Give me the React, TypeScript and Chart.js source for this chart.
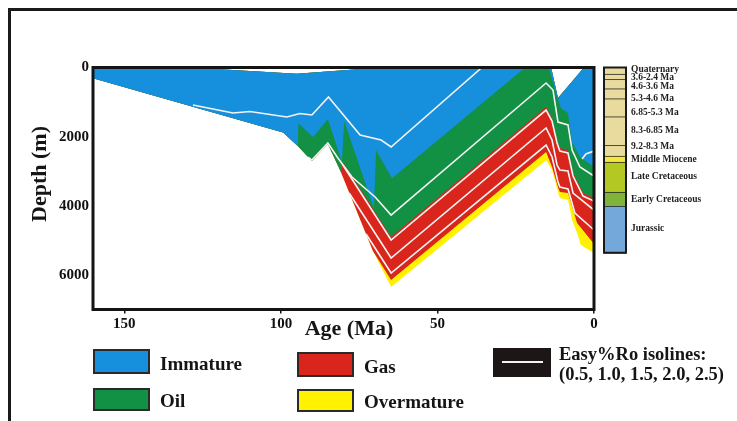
import { useEffect, useRef } from 'react';
import { Chart, registerables } from 'chart.js';

Chart.register(...registerables);

type Pt = [number, number]; // [age in Ma, depth in m]

const xTicks = [150, 100, 50, 0];
const yTicks = [0, 2000, 4000, 6000];

// sediment top surface (left to right)
const surfaceTop: Pt[] = [[160, 0], [129, 0], [95, 180], [68, 0], [13.7, 0], [11.5, 880], [3.2, 0], [0, 0]];

// maturity zone bases (left to right)
const immatureBase: Pt[] = [[160, 310], [99.3, 1880], [94.6, 2270], [94.4, 1610], [89.7, 2010], [85, 1490], [80.5, 2730], [79.8, 1550], [70.3, 4065], [69.6, 2390], [64.5, 3200], [22, 0], [14.4, 0], [11.8, 850], [10.5, 1170], [8.3, 1320], [7, 2155], [4.5, 2590], [0, 2880]];
const oilBase: Pt[] = [[160, 310], [99.3, 1880], [94.6, 2270], [90.1, 2705], [85, 2210], [80.8, 3030], [80.2, 2730], [64.8, 4900], [15.3, 1140], [13.4, 1460], [11.8, 2100], [10.9, 2330], [8.3, 2390], [6.7, 3050], [3.5, 3630], [0, 3775]];
const gasBase: Pt[] = [[160, 310], [99.3, 1880], [94.6, 2270], [90.1, 2705], [85, 2210], [81.1, 2965], [70.6, 5310], [64.8, 6150], [15.3, 2445], [13.4, 2880], [11.5, 3460], [10.9, 3600], [8.3, 3630], [5.4, 4500], [0, 5105]];
const overmatureBase: Pt[] = [[160, 310], [99.3, 1880], [94.6, 2270], [90.1, 2705], [85, 2210], [81.1, 2965], [70.6, 5310], [64.8, 6350], [15.3, 2680], [13.4, 2965], [11.5, 3600], [10.9, 3775], [8.3, 3830], [7, 4410], [5.4, 4790], [4.2, 5135], [0, 5365]];

// Easy%Ro isolines
const ro05: Pt[] = [[128.1, 1085], [115.3, 1316], [109.9, 1273], [98.1, 1432], [93.9, 1331], [90.1, 1374], [84.8, 853], [74.7, 1953], [68, 2097], [64.8, 2300], [35.8, 0]];
const ro05East: Pt[] = [[3.8, 2647], [2.6, 2502], [0, 2416]];
const ro10: Pt[] = [[91.3, 2589], [90.1, 2676], [85, 2184], [81.8, 2618], [77.3, 3168], [69.9, 3746], [64.8, 4267], [15.3, 448], [13.1, 651], [11.5, 1577], [8.3, 1663], [7, 2387], [4.5, 2879], [0, 3139]];
const ro15: Pt[] = [[80.2, 2821], [64.8, 4990], [15.3, 1230], [13.4, 1548], [11.8, 2184], [10.9, 2416], [8.3, 2473], [6.7, 3139], [3.5, 3718], [0, 3862]];
const ro20: Pt[] = [[78.2, 3631], [64.8, 5511], [15.3, 1750], [13.4, 2097], [11.8, 2821], [10.9, 2965], [8.3, 2994], [6.7, 3631], [0, 4123]];
const ro25: Pt[] = [[72.8, 4817], [64.8, 5945], [15.3, 2242], [13.4, 2589], [11.5, 3312], [10.9, 3457], [8.3, 3515], [6.1, 4209], [0, 4701]];

// present-day stratigraphic column
const stratUnits = ['Quaternary', '3.6-2.4 Ma', '4.6-3.6 Ma', '5.3-4.6 Ma', '6.85-5.3 Ma', '8.3-6.85 Ma', '9.2-8.3 Ma', 'Middle Miocene', 'Late Cretaceous', 'Early Cretaceous', 'Jurassic'];
const stratBase = [208, 362, 631, 920, 1441, 2271, 2580, 2754, 3622, 4027, 5358];
const stratLabelDepth = [45, 280, 540, 885, 1290, 1810, 2300, 2650, 3140, 3830, 4670];
const stratColors = ['#E9DA9E', '#E9DA9E', '#E9DA9E', '#E9DA9E', '#E9DA9E', '#E9DA9E', '#E9DA9E', '#F4E83A', '#B3C823', '#7FB43A', '#74A8DA'];

const legendLabels = ['Immature', 'Oil', 'Gas', 'Overmature'];

const BLUE = '#1690DC';
const GREEN = '#129144';
const RED = '#DA251D';
const YELLOW = '#FFF100';
const zoneColors = [BLUE, GREEN, RED, YELLOW];
const SERIF = '"Liberation Serif", "Times New Roman", serif';

const toXY = (pts: Pt[]) => pts.map(([x, y]) => ({ x, y }));
const zone = (base: Pt[]) => toXY([...surfaceTop, ...[...base].reverse()]);

const framePlugin = {
  id: 'frameBox',
  afterDatasetsDraw(chart: any) {
    const { ctx, chartArea: a } = chart;
    ctx.save();
    ctx.strokeStyle = '#141414';
    ctx.lineWidth = 3;
    ctx.strokeRect(a.left, a.top, a.right - a.left, a.bottom - a.top);
    ctx.restore();
  },
};

const stratPlugin = {
  id: 'stratColumn',
  afterDraw(chart: any) {
    const { ctx, chartArea: a } = chart;
    const ys = chart.scales.y;
    const x0 = a.right + 10;
    const w = 22;
    ctx.save();
    let top = 0;
    stratBase.forEach((base, i) => {
      const y1 = ys.getPixelForValue(top);
      const y2 = ys.getPixelForValue(base);
      ctx.fillStyle = stratColors[i];
      ctx.fillRect(x0, y1, w, y2 - y1);
      ctx.strokeStyle = '#1a1a1a';
      ctx.lineWidth = 1.5;
      ctx.beginPath();
      ctx.moveTo(x0, y2);
      ctx.lineTo(x0 + w, y2);
      ctx.stroke();
      ctx.fillStyle = '#222';
      ctx.font = `bold 9.5px ${SERIF}`;
      ctx.textBaseline = 'middle';
      ctx.fillText(stratUnits[i], x0 + 27, ys.getPixelForValue(stratLabelDepth[i]));
      top = base;
    });
    ctx.lineWidth = 2;
    ctx.strokeRect(x0, ys.getPixelForValue(0), w, ys.getPixelForValue(stratBase[stratBase.length - 1]) - ys.getPixelForValue(0));
    ctx.restore();
  },
};

export default function App() {
  const ref = useRef<HTMLCanvasElement>(null);

  useEffect(() => {
    const canvas = ref.current;
    if (!canvas) return;
    const tickFont = { family: SERIF, size: 15, weight: 'bold' as const };
    const iso = [ro05, ro05East, ro10, ro15, ro20, ro25].map((l) => ({
      data: toXY(l),
      borderColor: '#f4f4f4',
      borderWidth: 1.6,
      fill: false,
      pointRadius: 0,
    }));
    const zones = [immatureBase, oilBase, gasBase, overmatureBase].map((b, i) => ({
      data: zone(b),
      backgroundColor: zoneColors[i],
      borderWidth: 0,
      fill: 'shape' as const,
      pointRadius: 0,
    }));
    const chart = new Chart(canvas, {
      type: 'line',
      data: { datasets: [...iso, ...zones] as any },
      options: {
        responsive: false,
        animation: false,
        events: [],
        layout: { padding: { left: 45, right: 143, top: 59.5, bottom: 71.5 } },
        plugins: { legend: { display: false }, tooltip: { enabled: false } },
        elements: { point: { radius: 0 }, line: { tension: 0 } },
        scales: {
          x: {
            type: 'linear',
            min: 0,
            max: 160,
            reverse: true,
            afterFit: (s: any) => { s.height = 40; },
            afterBuildTicks: (s: any) => { s.ticks = xTicks.map((v) => ({ value: v })); },
            grid: { display: true, drawOnChartArea: false, drawTicks: true, tickLength: 4, color: '#111', lineWidth: 1.5 },
            border: { display: false },
            ticks: { font: tickFont, color: '#111', padding: 2, maxRotation: 0, autoSkip: false, callback: (v: any) => String(v) },
          },
          y: {
            type: 'linear',
            min: 0,
            max: 7000,
            reverse: true,
            afterFit: (s: any) => { s.width = 40; },
            afterBuildTicks: (s: any) => { s.ticks = yTicks.map((v) => ({ value: v })); },
            grid: { display: false, drawTicks: false },
            border: { display: false },
            ticks: { font: tickFont, color: '#111', padding: 4, autoSkip: false, callback: (v: any) => String(v) },
          },
        },
      },
      plugins: [framePlugin, stratPlugin],
    });
    return () => chart.destroy();
  }, []);

  const text = (content: string, left: number, top: number, size: number) => (
    <div
      key={content}
      style={{ position: 'absolute', left, top, transform: 'translateY(-50%)', fontSize: size, lineHeight: 1, whiteSpace: 'nowrap' }}
    >
      {content}
    </div>
  );

  const legendBoxes = [
    { left: 85, top: 341, h: 25 },
    { left: 85, top: 380, h: 23 },
    { left: 289, top: 344, h: 25 },
    { left: 289, top: 381, h: 23 },
  ];
  const legendTextPos = [
    [152, 355],
    [152, 392],
    [356, 358],
    [356, 393],
  ];

  return (
    <div
      style={{
        position: 'absolute',
        left: 8,
        top: 8,
        width: 729,
        height: 413,
        overflow: 'hidden',
        fontFamily: SERIF,
        fontWeight: 'bold',
        color: '#151515',
      }}
    >
      <canvas ref={ref} width={729} height={413} style={{ position: 'absolute', left: 0, top: 0 }} />
      <div
        style={{
          position: 'absolute',
          left: 0,
          top: 0,
          width: 729,
          height: 413,
          boxSizing: 'border-box',
          borderTop: '3px solid #1a1a1a',
          borderLeft: '3px solid #1a1a1a',
          pointerEvents: 'none',
        }}
      />
      <div
        style={{
          position: 'absolute',
          left: 31,
          top: 166,
          transform: 'translate(-50%, -50%) rotate(-90deg)',
          fontSize: 22,
          lineHeight: 1,
          whiteSpace: 'nowrap',
        }}
      >
        Depth (m)
      </div>
      <div
        style={{
          position: 'absolute',
          left: 341,
          top: 320,
          transform: 'translate(-50%, -50%)',
          fontSize: 22,
          lineHeight: 1,
          whiteSpace: 'nowrap',
        }}
      >
        Age (Ma)
      </div>
      {legendLabels.map((label, i) => (
        <div key={'b' + label}>
          <div
            style={{
              position: 'absolute',
              left: legendBoxes[i].left,
              top: legendBoxes[i].top,
              width: 57,
              height: legendBoxes[i].h,
              boxSizing: 'border-box',
              border: '2px solid #2a2a2a',
              background: zoneColors[i],
            }}
          />
          {text(label, legendTextPos[i][0], legendTextPos[i][1], 19)}
        </div>
      ))}
      <div
        style={{
          position: 'absolute',
          left: 485,
          top: 340,
          width: 58,
          height: 29,
          background: '#1c1616',
        }}
      >
        <div style={{ position: 'absolute', left: 9, top: 13, width: 41, height: 2, background: '#f2f2f2' }} />
      </div>
      {text('Easy%Ro isolines:', 551, 346, 18.5)}
      {text('(0.5, 1.0, 1.5, 2.0, 2.5)', 551, 366, 18.5)}
    </div>
  );
}
